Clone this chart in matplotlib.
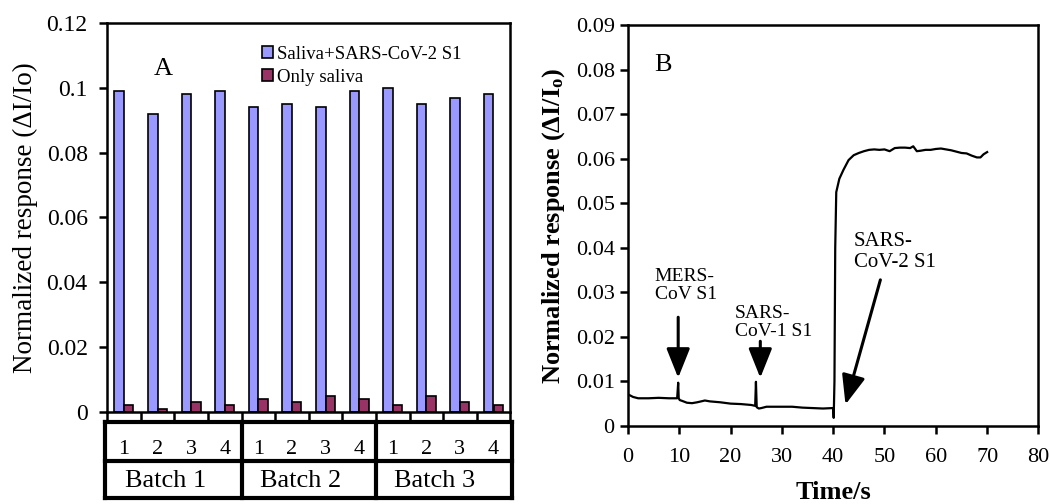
import matplotlib
matplotlib.use('Agg')
import matplotlib.pyplot as plt
from matplotlib.lines import Line2D

plt.rcParams['font.family'] = ['Liberation Serif', 'DejaVu Serif']
plt.rcParams['mathtext.fontset'] = 'custom'
plt.rcParams['mathtext.rm'] = 'Liberation Serif:bold'
plt.rcParams['mathtext.default'] = 'rm'

# Panel A data
sample_labels = ['1', '2', '3', '4', '1', '2', '3', '4', '1', '2', '3', '4']
batch_labels = ['Batch 1', 'Batch 2', 'Batch 3']
saliva_sars2 = [0.099, 0.092, 0.098, 0.099, 0.094, 0.095, 0.094, 0.099, 0.100, 0.095, 0.097, 0.098]
only_saliva = [0.002, 0.001, 0.003, 0.002, 0.004, 0.003, 0.005, 0.004, 0.002, 0.005, 0.003, 0.002]

# Panel B data
time_s = [0, 1, 2, 4, 6, 8, 9.6, 9.8, 9.9, 10.1, 10.6, 11.5, 12.5, 13.5, 15, 16, 18, 20, 22, 24, 24.8,
          24.95, 25.1, 25.5, 26, 27, 28, 30, 32, 34, 36, 38, 39.9, 40.0, 40.1, 40.25, 40.4, 40.6, 41.2,
          42, 43, 44, 45, 46, 47, 48, 49, 50, 51, 52, 53, 54, 55, 55.6, 56.3, 57, 58, 59, 60, 61, 62,
          63, 64, 65, 66, 67, 68, 68.7, 69.3, 70]
response = [0.0071, 0.0065, 0.0062, 0.0062, 0.0063, 0.0062, 0.0062, 0.0097, 0.0062, 0.0058, 0.0056,
            0.0052, 0.0051, 0.0053, 0.0057, 0.0055, 0.0053, 0.0050, 0.0049, 0.0047, 0.0045,
            0.0099, 0.0042, 0.0039, 0.0040, 0.0043, 0.0043, 0.0043, 0.0043, 0.0041, 0.0040, 0.0039,
            0.0040, 0.0040, 0.0018, 0.0100, 0.0400, 0.0525, 0.0555,
            0.0575, 0.0597, 0.0608, 0.0613, 0.0617, 0.0620, 0.0621, 0.0620, 0.0621, 0.0617, 0.0624,
            0.0625, 0.0625, 0.0624, 0.0628, 0.0617, 0.0618, 0.0620, 0.0620, 0.0622, 0.0623, 0.0621,
            0.0619, 0.0616, 0.0613, 0.0612, 0.0607, 0.0603, 0.0603, 0.0610, 0.0615]

fig = plt.figure(figsize=(10.5, 5.04), dpi=100)

# ---------- Panel A ----------
axA = fig.add_axes([0.102, 0.183, 0.384, 0.771])
x = list(range(len(saliva_sars2)))
bw = 0.28
axA.bar([i - bw / 2 for i in x], saliva_sars2, width=bw, color='#9999FF', edgecolor='black', linewidth=1.2,
        label='Saliva+SARS-CoV-2 S1')
axA.bar([i + bw / 2 for i in x], only_saliva, width=bw, color='#993366', edgecolor='black', linewidth=1.2,
        label='Only saliva')
axA.set_xlim(-0.5, len(x) - 0.5)
axA.set_ylim(0, 0.12)
axA.set_yticks([0, 0.02, 0.04, 0.06, 0.08, 0.1, 0.12])
axA.set_yticklabels(['0', '0.02', '0.04', '0.06', '0.08', '0.1', '0.12'])
axA.set_xticks([i - 0.5 for i in range(len(x) + 1)])
axA.set_xticklabels([])
axA.tick_params(axis='both', direction='out', length=6, width=1.8, labelsize=17)
axA.tick_params(axis='y', pad=8)
for s in axA.spines.values():
    s.set_linewidth(1.8)
axA.set_ylabel('Normalized response (\u0394I/Io)', fontsize=19.5, labelpad=6)
axA.text(1.17, 0.106, 'A', fontsize=19, ha='center', va='center')
axA.legend(loc='upper right', bbox_to_anchor=(0.92, 0.985), frameon=False, fontsize=13.5,
           handlelength=0.6, handleheight=0.6, handletextpad=0.2, labelspacing=0.3)

# category table under the axis
tr = axA.get_xaxis_transform()
x0, x1 = -0.56, len(x) - 0.44
y_top, y_mid, y_bot = -0.026, -0.126, -0.221
kw = dict(color='black', lw=3, transform=tr, clip_on=False)
for yy in (y_top, y_mid, y_bot):
    axA.add_line(Line2D([x0, x1], [yy, yy], **kw))
for xx in (x0, 3.5, 7.5, x1):
    axA.add_line(Line2D([xx, xx], [y_top, y_bot], **kw))
for i, lab in enumerate(sample_labels):
    axA.text(i, -0.098, lab, transform=tr, ha='center', va='center', fontsize=16)
for b, lab in enumerate(batch_labels):
    axA.text(b * 4 - 0.5 + 2 - 0.25, -0.177, lab, transform=tr, ha='center', va='center', fontsize=19)

# ---------- Panel B ----------
axB = fig.add_axes([0.598, 0.155, 0.391, 0.795])
axB.plot(time_s, response, color='black', lw=1.6)
axB.set_xlim(0, 80)
axB.set_ylim(0, 0.09)
axB.set_xticks(range(0, 81, 10))
axB.set_yticks([0, 0.01, 0.02, 0.03, 0.04, 0.05, 0.06, 0.07, 0.08, 0.09])
axB.set_yticklabels(['0', '0.01', '0.02', '0.03', '0.04', '0.05', '0.06', '0.07', '0.08', '0.09'])
axB.tick_params(axis='both', direction='out', length=6, width=1.8, labelsize=16)
axB.tick_params(axis='x', pad=10)
for s in axB.spines.values():
    s.set_linewidth(1.8)
axB.set_ylabel('Normalized response (\u0394I/I$_{o}$)', fontsize=19, fontweight='bold', labelpad=6)
axB.set_xlabel('Time/s', fontsize=19, fontweight='bold', labelpad=10)
axB.text(5.2, 0.081, 'B', fontsize=19, ha='left', va='center')

ap = dict(arrowstyle='-|>,head_width=0.4,head_length=1.0', color='black', lw=2.2,
          shrinkA=0, shrinkB=0, mutation_scale=18)
axB.annotate('', xy=(9.8, 0.0108), xytext=(9.8, 0.0244), arrowprops=ap)
axB.annotate('', xy=(25.8, 0.0108), xytext=(25.8, 0.019), arrowprops=ap)
axB.annotate('', xy=(42.4, 0.0048), xytext=(49.2, 0.0328), arrowprops=ap)
axB.text(5.2, 0.0355, 'MERS-\nCoV S1', fontsize=14, ha='left', va='top', linespacing=1.1)
axB.text(20.8, 0.0272, 'SARS-\nCoV-1 S1', fontsize=14, ha='left', va='top', linespacing=1.1)
axB.text(44.0, 0.0435, 'SARS-\nCoV-2 S1', fontsize=15, ha='left', va='top', linespacing=1.1)

fig.savefig('out.png', dpi=100)
